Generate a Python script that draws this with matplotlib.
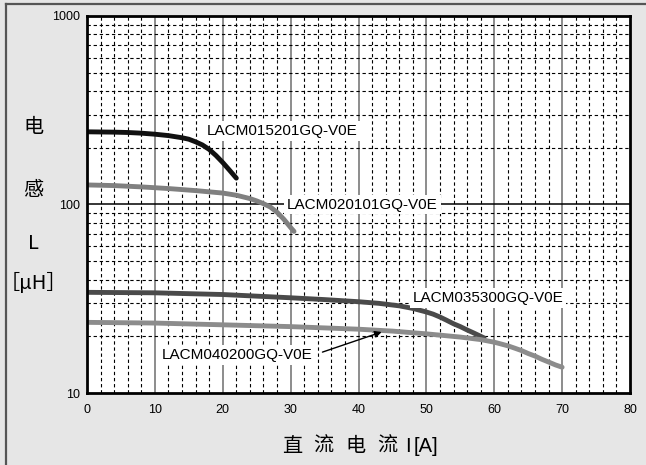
import matplotlib
matplotlib.use("Agg")
import matplotlib.pyplot as plt
from matplotlib.lines import Line2D
import numpy as np

# data (current in A, inductance in uH)
x_015201 = [0, 2, 4, 6, 8, 10, 12, 14, 15, 16, 17, 18, 19, 20, 21, 22]
y_015201 = [243, 242.5, 242, 241, 239, 236, 232, 226, 222, 215, 207, 196, 182, 167, 152, 138]

x_020101 = [0, 4, 8, 12, 16, 20, 22, 24, 25, 26, 27, 28, 29, 30, 30.5]
y_020101 = [127, 126, 124, 121.5, 118.5, 115, 112, 107.5, 104.5, 101, 97, 91, 83.5, 75.5, 72]

x_035300 = [0, 10, 20, 30, 35, 40, 43, 46, 48, 50, 51, 52, 53, 54, 55, 56, 57, 58.5]
y_035300 = [34.2, 34, 33.3, 32, 31.3, 30.5, 29.9, 29.0, 28.1, 26.9, 26.2, 25.3, 24.3,
            23.3, 22.5, 21.6, 20.8, 19.6]

x_040200 = [0, 10, 20, 30, 40, 45, 50, 55, 58, 60, 61, 62, 63, 64, 65, 66, 67, 68, 69, 70]
y_040200 = [23.7, 23.5, 23, 22.5, 21.8, 21.3, 20.6, 19.8, 19.2, 18.6, 18.2, 17.8, 17.3,
            16.8, 16.2, 15.7, 15.1, 14.6, 14.1, 13.7]

names = ['LACM015201GQ-V0E', 'LACM020101GQ-V0E', 'LACM035300GQ-V0E', 'LACM040200GQ-V0E']
x_ticks = [0, 10, 20, 30, 40, 50, 60, 70, 80]
y_ticks = [10, 100, 1000]

W, H = 646, 465
fig = plt.figure(figsize=(W / 100, H / 100), dpi=100, facecolor='#e6e6e6')
ax = fig.add_axes([87 / W, 1 - 393 / H, (630 - 87) / W, (393 - 16) / H])

# outer frame (only top and left edges are in view)
fig.add_artist(Line2D([6 / W, 6 / W], [0, 1 - 4 / H], transform=fig.transFigure,
                      color='#555555', lw=1.6))
fig.add_artist(Line2D([6 / W, 1], [1 - 4 / H, 1 - 4 / H], transform=fig.transFigure,
                      color='#555555', lw=1.6))

ax.set_yscale('log')
ax.set_xlim(0, 80)
ax.set_ylim(10, 1000)

# grid
for xv in np.arange(2, 80, 2):
    if xv % 10 == 0:
        ax.axvline(xv, color='#6e6e6e', lw=1.1, zorder=1)
    else:
        ax.axvline(xv, color='black', lw=0.8, ls=(0, (3, 2.5)), zorder=1)
for dec in [10, 100]:
    for m in range(2, 10):
        ax.axhline(dec * m, color='black', lw=0.8, ls=(0, (3, 2.5)), zorder=1)
ax.axhline(100, color='black', lw=1.1, zorder=1)

style = dict(lw=3.5, solid_capstyle='round', solid_joinstyle='round', zorder=3)
ax.plot(x_015201, y_015201, color='#111111', **style)
ax.plot(x_020101, y_020101, color='#808080', **style)
ax.plot(x_035300, y_035300, color='#4a4a4a', **style)
ax.plot(x_040200, y_040200, color='#8c8c8c', **style)

box = dict(facecolor='white', edgecolor='none', pad=2)
lab_font = dict(fontsize=11, family='Liberation Sans', va='center', ha='left', zorder=4, bbox=box)
ax.text(17.7, 245, names[0], **lab_font)
ax.text(29.5, 100, names[1], **lab_font)
ax.text(48.0, 31.9, names[2], **lab_font)
ax.text(11.0, 15.9, names[3], **lab_font)
ax.annotate('', xy=(43.8, 21.3), xytext=(34.3, 16.3),
            arrowprops=dict(arrowstyle='-|>', color='black', lw=1.0,
                            mutation_scale=10), zorder=5)

ax.set_xticks(x_ticks)
ax.set_xticklabels([str(v) for v in x_ticks], family='Liberation Sans', fontsize=9)
ax.set_yticks(y_ticks)
ax.set_yticklabels([str(v) for v in y_ticks], family='Liberation Sans', fontsize=9)
ax.yaxis.set_minor_locator(matplotlib.ticker.NullLocator())
ax.tick_params(length=0)
ax.tick_params(axis='x', pad=8)
ax.tick_params(axis='y', pad=5)

for s in ax.spines.values():
    s.set_linewidth(2)
    s.set_color('black')
    s.set_zorder(6)

cjk = ['Noto Sans CJK SC', 'DejaVu Sans']
# x axis title, spaced out like the original
for txt, px in [('直', 292), ('流', 323), ('电', 355), ('流', 387), ('I', 408), ('[A]', 426)]:
    fam = cjk if txt in '直流电' else ['Liberation Sans']
    fig.text(px / W, 1 - 446 / H, txt, family=fam, fontsize=14.5, ha='center', va='center')
# y axis title, stacked
for txt, py in [('电', 127), ('感', 190), ('L', 243), ('［μH］', 283)]:
    fig.text(33 / W, 1 - py / H, txt, family=cjk, fontsize=14.5, ha='center', va='center')

fig.savefig('out.png', dpi=100, facecolor=fig.get_facecolor())
